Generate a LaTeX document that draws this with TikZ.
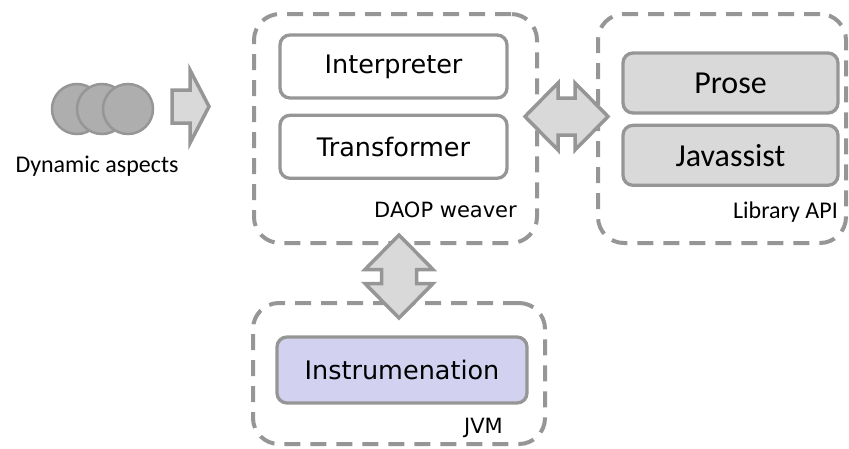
\documentclass[tikz,border=0pt]{standalone}
\usepackage{fontspec}
\setmainfont{Carlito}
\newfontfamily\verd{DejaVu Sans}
\usetikzlibrary{positioning, calc}
\definecolor{edgegray}{RGB}{150,150,150}
\definecolor{boxgray}{RGB}{217,217,217}
\definecolor{dotgray}{RGB}{174,174,174}
\definecolor{lavender}{RGB}{210,210,240}
\tikzset{
  layer/.style={draw=edgegray, line width=4pt, dash pattern=on 16pt off 10pt, rounded corners=26pt},
  module/.style={draw=edgegray, line width=3.3pt, rounded corners=10pt, inner sep=0pt},
  blockarrow/.style={draw=edgegray, line width=3.5pt, fill=boxgray, line join=miter},
  caption/.style={inner sep=0pt, anchor=base east},
}

\begin{document}
\begin{tikzpicture}[x=1pt,y=-1pt]
  \useasboundingbox (0,0) rectangle (849,448);
  % layers
  \node[layer, minimum width=283pt, minimum height=229pt] (daop) at (395.5,128.5) {};
  \node[layer, minimum width=248pt, minimum height=229pt] (lib) at (722,128.5) {};
  \node[layer, minimum width=292pt, minimum height=141pt] (jvm) at (399,373.5) {};
  % modules
  \node[module, fill=white, minimum width=227pt, minimum height=63pt, font=\verd\fontsize{25.5}{28}\selectfont] (interp) at (393.5,66.5) {Interpreter};
  \node[module, fill=white, minimum width=227pt, minimum height=63pt, font=\verd\fontsize{25.5}{28}\selectfont, below=14pt of interp] (trans) {Transformer};
  \node[module, fill=boxgray, minimum width=215pt, minimum height=60pt, font=\fontsize{32}{36}\selectfont] (prose) at (730.5,83) {Prose};
  \node[module, fill=boxgray, minimum width=215pt, minimum height=60pt, font=\fontsize{32}{36}\selectfont, below=9pt of prose] (javassist) {Javassist};
  \node[module, fill=lavender, minimum width=250pt, minimum height=66pt, font=\verd\fontsize{25.5}{28}\selectfont] (instr) at (402,370) {Instrumenation};
  % captions
  \node[caption, font=\verd\fontsize{21}{24}\selectfont] (daoplabel) at (517,217) {DAOP weaver};
  \node[caption, font=\fontsize{24}{28}\selectfont] (liblabel) at (838,218) {Library API};
  \node[caption, font=\verd\fontsize{21}{24}\selectfont] (jvmlabel) at (503,433) {JVM};
  % dynamic aspects
  \foreach \cx/\nm in {77/asp1, 102/asp2, 128/asp3}
    \draw[draw=edgegray, line width=2.5pt, fill=dotgray] (\cx,109) circle (25pt) coordinate (\nm);
  \node[inner sep=0pt, anchor=base, font=\fontsize{24}{28}\selectfont] (dynlabel) at (97,172) {Dynamic aspects};
  % block arrows
  \coordinate (inarr) at (172,106.5);
  \coordinate (hmid) at (566.5,116.5);
  \coordinate (vmid) at (399,276.5);
  \draw[blockarrow] (inarr) ++(0,-16.5) -- ++(18,0) -- ++(0,-20) -- ++(19,36.5)
    -- ++(-19,36.5) -- ++(0,-20) -- ++(-18,0) -- cycle;
  \draw[blockarrow] ($(hmid)+(-41.5,0)$) -- ++(33,-33.5) -- ++(0,15) -- ++(17,0) -- ++(0,-15)
    -- ++(33,33.5) -- ++(-33,33.5) -- ++(0,-15) -- ++(-17,0) -- ++(0,15) -- cycle;
  \draw[blockarrow] ($(vmid)+(0,-41.5)$) -- ++(34,34.5) -- ++(-16.5,0) -- ++(0,14) -- ++(16.5,0)
    -- ++(-34,34.5) -- ++(-34,-34.5) -- ++(16.5,0) -- ++(0,-14) -- ++(-16.5,0) -- cycle;
\end{tikzpicture}
\end{document}
